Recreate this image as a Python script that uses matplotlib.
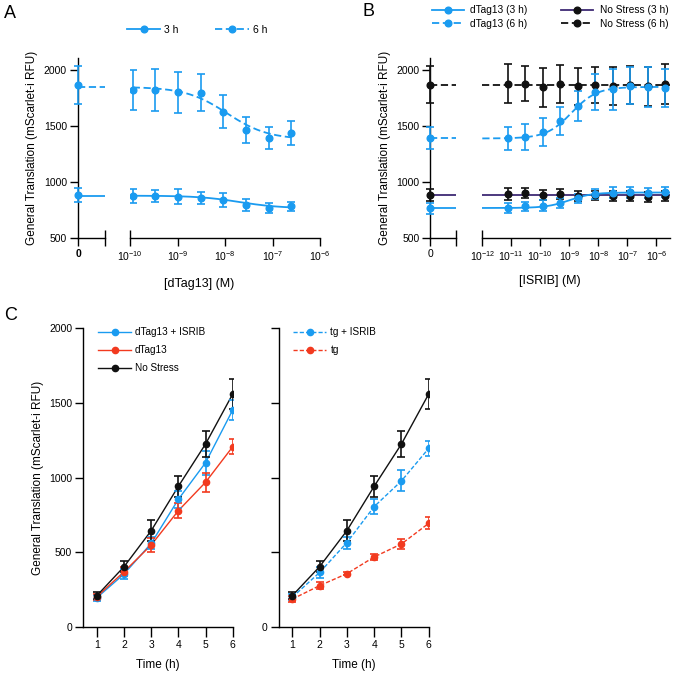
import numpy as np
import matplotlib
matplotlib.use('Agg')
import matplotlib.pyplot as plt
from matplotlib.lines import Line2D
from matplotlib.ticker import FixedLocator, FuncFormatter

plt.rcParams['font.family'] = ['Liberation Sans', 'DejaVu Sans']
plt.rcParams['mathtext.default'] = 'regular'
plt.rcParams['axes.linewidth'] = 1.0

BLUE = '#1A9BF0'
RED = '#F23A1F'
PURPLE = '#3E2A74'
BLACK = '#111111'

# ---- panel A: dTag13 dose response ----
a_conc = [1.14e-10, 3.43e-10, 1.03e-9, 3.09e-9, 9.26e-9, 2.78e-8, 8.33e-8, 2.5e-7]
a_3h = [872, 872, 866, 857, 837, 792, 765, 780]
a_3h_err = [60, 55, 65, 55, 65, 55, 45, 40]
a_6h = [1816, 1819, 1795, 1792, 1625, 1459, 1390, 1435]
a_6h_err = [180, 190, 180, 165, 150, 115, 100, 105]
a_zero_3h, a_zero_3h_err = 880, 60
a_zero_6h, a_zero_6h_err = 1860, 170
# fit: (value at low dose, value at high dose, ec50, hill)
a_fit_3h = (875, 762, 2e-8, 1.0)
a_fit_6h = (1845, 1375, 1.1e-8, 1.0)

# ---- panel B: ISRIB dose response ----
b_conc = [7.63e-12, 3.05e-11, 1.22e-10, 4.88e-10, 1.95e-9, 7.81e-9, 3.13e-8, 1.25e-7, 5.0e-7, 2.0e-6]
b_dtag_3h = [767, 780, 785, 812, 850, 889, 901, 904, 901, 904]
b_dtag_3h_err = [45, 40, 50, 45, 40, 45, 50, 50, 45, 45]
b_dtag_6h = [1385, 1400, 1441, 1539, 1673, 1800, 1824, 1857, 1845, 1836]
b_dtag_6h_err = [105, 115, 125, 125, 135, 160, 185, 165, 175, 167]
b_ns_3h = [889, 898, 880, 886, 872, 878, 868, 875, 862, 875]
b_ns_3h_err = [50, 45, 45, 45, 45, 40, 45, 45, 45, 45]
b_ns_6h = [1875, 1875, 1840, 1870, 1850, 1860, 1855, 1862, 1850, 1870]
b_ns_6h_err = [170, 155, 175, 170, 165, 160, 170, 170, 175, 180]
b_zero = {'dtag_3h': (762, 50), 'dtag_6h': (1391, 100), 'ns_3h': (880, 50), 'ns_6h': (1866, 168)}
b_fit_dtag_3h = (765, 903, 1e-9, 1.1)
b_fit_dtag_6h = (1385, 1845, 1.2e-9, 1.0)
b_fit_ns_3h = (883, 883, 1e-9, 1.0)
b_fit_ns_6h = (1862, 1862, 1e-9, 1.0)

# ---- panel C: time course ----
c_time = [1, 2, 3, 4, 5, 6]
c_ns = [210, 404, 645, 942, 1225, 1560]
c_ns_err = [25, 35, 70, 70, 85, 100]
c_dtag_isrib = [196, 355, 560, 855, 1100, 1453]
c_dtag_isrib_err = [20, 35, 40, 55, 80, 70]
c_dtag = [203, 370, 549, 779, 969, 1207]
c_dtag_err = [20, 30, 50, 50, 65, 50]
c_tg_isrib = [200, 365, 565, 806, 978, 1196]
c_tg_isrib_err = [20, 40, 40, 50, 70, 50]
c_tg = [187, 277, 357, 469, 556, 694]
c_tg_err = [20, 25, 12, 20, 35, 40]

W, H = 676, 679
fig = plt.figure(figsize=(W / 100, H / 100), dpi=100)


def pos(x0, x1, ytop, ybot):
    return [x0 / W, 1 - ybot / H, (x1 - x0) / W, (ybot - ytop) / H]


def logistic(x, start, end, ec50, hill):
    return start + (end - start) / (1 + (ec50 / x) ** hill)


def eb(ax, x, y, e, color, ms=4.8, noclip=False):
    c = ax.errorbar(x, y, e, fmt='o', color=color, ms=ms, mec=color, capsize=3,
                    elinewidth=1.2, capthick=1.2, zorder=3)
    if noclip:
        for art in c.get_children():
            art.set_clip_on(False)
    return c


def tidy(ax):
    for s in ['top', 'right']:
        ax.spines[s].set_visible(False)
    ax.tick_params(labelsize=7.5, width=1.0, length=5.5, pad=2.5)


def broken_axes(zrect, lrect, xlim, major, start, bold_zero):
    az = fig.add_axes(zrect)
    al = fig.add_axes(lrect, sharey=az)
    tidy(az)
    tidy(al)
    az.set_xlim(0, 1)
    az.set_ylim(500, 2100)
    az.set_yticks([500, 1000, 1500, 2000])
    az.xaxis.set_major_locator(FixedLocator([0]))
    az.xaxis.set_minor_locator(FixedLocator([1]))
    az.set_xticklabels(['0'], fontweight='bold' if bold_zero else 'normal')
    az.tick_params(axis='x', which='minor', direction='inout', length=12, width=1.0)
    al.set_xscale('log')
    al.set_xlim(*xlim)
    al.spines['left'].set_visible(False)
    al.tick_params(axis='y', left=False, labelleft=False)
    fmt = FuncFormatter(lambda v, p: r'$10^{%d}$' % round(np.log10(v)))
    al.xaxis.set_major_locator(FixedLocator(major))
    al.xaxis.set_minor_locator(FixedLocator([start]))
    al.xaxis.set_major_formatter(fmt)
    al.xaxis.set_minor_formatter(fmt)
    al.tick_params(axis='x', which='minor', direction='inout', length=12, width=1.0,
                   labelsize=7.5, pad=2.5)
    return az, al


# ================= A =================
azA, alA = broken_axes(pos(78, 105, 58.3, 237.7), pos(130, 320, 58.3, 237.7),
                       (1e-10, 1e-6), [1e-9, 1e-8, 1e-7, 1e-6], 1e-10, True)
xs = np.logspace(np.log10(a_conc[0]), np.log10(a_conc[-1]), 200)
for vals, errs, z, ze, fit, ls in [(a_3h, a_3h_err, a_zero_3h, a_zero_3h_err, a_fit_3h, '-'),
                                   (a_6h, a_6h_err, a_zero_6h, a_zero_6h_err, a_fit_6h, (0, (4, 2)))]:
    eb(alA, a_conc, vals, errs, BLUE)
    alA.plot(xs, logistic(xs, *fit), color=BLUE, ls=ls, lw=1.3)
    eb(azA, [0], [z], [ze], BLUE, noclip=True)
    azA.axhline(fit[0], color=BLUE, ls=ls, lw=1.3)
azA.set_ylabel('General Translation (mScarlet-i RFU)', fontsize=8.5, labelpad=4)
fig.text((78 + 320) / 2 / W, 1 - 284 / H, '[dTag13] (M)', fontsize=9, ha='center', va='center')
hA = [Line2D([], [], color=BLUE, ls='-', marker='o', ms=4.8, lw=1.3),
      Line2D([], [], color=BLUE, ls=(0, (4, 2)), marker='o', ms=4.8, lw=1.3)]
fig.legend(hA, ['3 h', '6 h'], ncol=2, frameon=False, fontsize=7.5, loc='center',
           bbox_to_anchor=(197 / W, 1 - 30 / H), handlelength=3.2, handletextpad=0.4,
           columnspacing=3.5)

# ================= B =================
azB, alB = broken_axes(pos(430.5, 456, 58.3, 237.7), pos(482.3, 670, 58.3, 237.7),
                       (1e-12, 10 ** -5.53), [1e-11, 1e-10, 1e-9, 1e-8, 1e-7, 1e-6], 1e-12, False)
xb = np.logspace(-12, -5.53, 300)
seriesB = [(b_ns_6h, b_ns_6h_err, 'ns_6h', b_fit_ns_6h, BLACK, BLACK, (0, (4, 2))),
           (b_ns_3h, b_ns_3h_err, 'ns_3h', b_fit_ns_3h, BLACK, PURPLE, '-'),
           (b_dtag_6h, b_dtag_6h_err, 'dtag_6h', b_fit_dtag_6h, BLUE, BLUE, (0, (4, 2))),
           (b_dtag_3h, b_dtag_3h_err, 'dtag_3h', b_fit_dtag_3h, BLUE, BLUE, '-')]
for vals, errs, key, fit, pc, lc, ls in seriesB:
    alB.plot(xb, logistic(xb, *fit), color=lc, ls=ls, lw=1.3, zorder=2)
    eb(alB, b_conc, vals, errs, pc)
    azB.axhline(fit[0], color=lc, ls=ls, lw=1.3)
    eb(azB, [0], [b_zero[key][0]], [b_zero[key][1]], pc, noclip=True)
azB.set_ylabel('General Translation (mScarlet-i RFU)', fontsize=8.5, labelpad=4)
fig.text((430.5 + 670) / 2 / W, 1 - 281 / H, '[ISRIB] (M)', fontsize=9, ha='center', va='center')
hB = [Line2D([], [], color=BLUE, ls='-', marker='o', ms=4.8, lw=1.3),
      Line2D([], [], color=BLUE, ls=(0, (4, 2)), marker='o', ms=4.8, lw=1.3),
      Line2D([], [], color=PURPLE, ls='-', marker='o', mfc=BLACK, mec=BLACK, ms=4.8, lw=1.3),
      Line2D([], [], color=BLACK, ls=(0, (4, 2)), marker='o', ms=4.8, lw=1.3)]
fig.legend(hB, ['dTag13 (3 h)', 'dTag13 (6 h)', 'No Stress (3 h)', 'No Stress (6 h)'],
           ncol=2, frameon=False, fontsize=7.3, loc='center',
           bbox_to_anchor=(550 / W, 1 - 17 / H), handlelength=3.2, handletextpad=0.6,
           columnspacing=3.3, labelspacing=0.3)

# ================= C =================
axL = fig.add_axes(pos(83.3, 232.7, 328.3, 627))
axR = fig.add_axes(pos(278.7, 428.7, 328.3, 627))
for ax in (axL, axR):
    tidy(ax)
    ax.set_xlim(0.5, 6)
    ax.set_ylim(0, 2000)
    ax.set_xticks(c_time)
    ax.set_yticks([0, 500, 1000, 1500, 2000])
    ax.tick_params(axis='x', length=7)
    ax.set_xlabel('Time (h)', fontsize=8.5, labelpad=6)
axR.set_yticklabels(['0', '', '', '', ''])
axL.set_ylabel('General Translation (mScarlet-i RFU)', fontsize=8.5, labelpad=4)

lines_L = []
for vals, errs, col in [(c_dtag_isrib, c_dtag_isrib_err, BLUE), (c_dtag, c_dtag_err, RED),
                        (c_ns, c_ns_err, BLACK)]:
    axL.plot(c_time, vals, color=col, lw=1.0)
    eb(axL, c_time, vals, errs, col, ms=4.5)
    lines_L.append(Line2D([], [], color=col, marker='o', ms=4.5, lw=1.0))
axL.legend(lines_L, ['dTag13 + ISRIB', 'dTag13', 'No Stress'], loc='upper left',
           bbox_to_anchor=(0.065, 1.02), frameon=False, fontsize=7.2, borderpad=0,
           handlelength=3.3, handletextpad=0.4, labelspacing=0.8)

dash = (0, (3, 1.5))
lines_R = []
for vals, errs, col, ls in [(c_tg_isrib, c_tg_isrib_err, BLUE, dash), (c_tg, c_tg_err, RED, dash),
                            (c_ns, c_ns_err, BLACK, '-')]:
    axR.plot(c_time, vals, color=col, lw=1.0, ls=ls)
    eb(axR, c_time, vals, errs, col, ms=4.5)
    lines_R.append(Line2D([], [], color=col, marker='o', ms=4.5, lw=1.0, ls=ls))
axR.legend(lines_R[:2], ['tg + ISRIB', 'tg'], loc='upper left',
           bbox_to_anchor=(0.065, 1.02), frameon=False, fontsize=7.2, borderpad=0,
           handlelength=3.3, handletextpad=0.4, labelspacing=0.8)

# panel letters
fig.text(4 / W, 1 - 14 / H, 'A', fontsize=13, va='center')
fig.text(362 / W, 1 - 12 / H, 'B', fontsize=13, va='center')
fig.text(4 / W, 1 - 315 / H, 'C', fontsize=13, va='center')

fig.savefig('out.png', dpi=100)
